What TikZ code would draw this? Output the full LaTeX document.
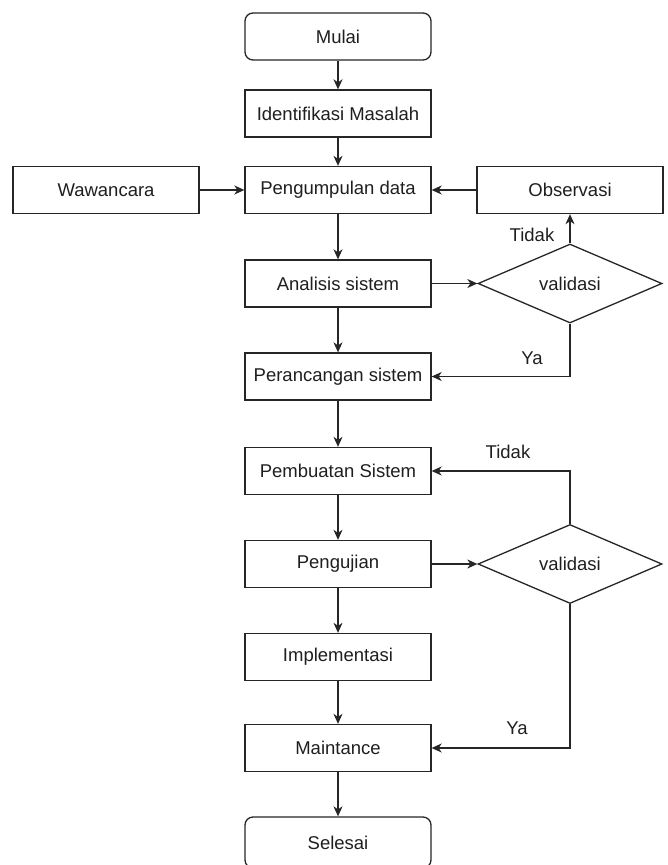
\documentclass[tikz,border=0pt]{standalone}
\usepackage{fontspec}
\setmainfont{Liberation Sans}
\usetikzlibrary{arrows.meta,shapes.geometric}
\begin{document}
\begin{tikzpicture}[x=1pt,y=-1pt,
  every node/.style={font=\fontsize{18.5}{20}\selectfont, text=black!88},
  box/.style={draw=black!85, line width=1.3pt, minimum width=186pt, minimum height=47pt, inner sep=0pt, fill=white},
  term/.style={box, rounded corners=8pt},
  dec/.style={draw=black!85, line width=1.3pt, diamond, aspect=2.33, minimum width=184pt, minimum height=79pt, inner sep=0pt},
  lbl/.style={inner sep=0pt},
  arr/.style={draw=black!85, line width=1.3pt, -{Stealth[length=10pt,width=9pt,inset=3pt]}}]
\useasboundingbox (0,0) rectangle (668,865);
\clip (0,0) rectangle (668,865);
\node[term] (mulai) at (338,36.5) {Mulai};
\node[box] (ident) at (338,113.5) {Identifikasi Masalah};
\node[box] (kumpul) at (338,190) {Pengumpulan data};
\node[box] (waw) at (106,190) {Wawancara};
\node[box] (obs) at (570,190) {Observasi};
\node[box] (analisis) at (338,283.5) {Analisis sistem};
\node[dec] (val1) at (570,283.5) {validasi};
\node[box] (rancang) at (338,376.5) {Perancangan sistem};
\node[box] (buat) at (338,471) {Pembuatan Sistem};
\node[box] (uji) at (338,564) {Pengujian};
\node[dec] (val2) at (570,564) {validasi};
\node[box] (impl) at (338,657) {Implementasi};
\node[box] (maint) at (338,748) {Maintance};
\node[term, minimum height=51pt] (selesai) at (338,842.5) {Selesai};
\node[lbl] (t1) at (532,235) {Tidak};
\node[lbl] (y1) at (532,358) {Ya};
\node[lbl] (t2) at (508,452) {Tidak};
\node[lbl] (y2) at (517,728) {Ya};
\draw[arr] (mulai) -- (ident);
\draw[arr] (ident) -- (kumpul);
\draw[arr] (waw.east) -- (kumpul.west);
\draw[arr] (obs.west) -- (kumpul.east);
\draw[arr] (kumpul) -- (analisis);
\draw[arr] (analisis.east) -- (val1.west);
\draw[arr] (val1.north) -- (obs.south);
\draw[arr] (val1.south) |- (rancang.east);
\draw[arr] (analisis) -- (rancang);
\draw[arr] (rancang) -- (buat);
\draw[arr] (val2.north) |- (buat.east);
\draw[arr] (buat) -- (uji);
\draw[arr] (uji.east) -- (val2.west);
\draw[arr] (uji) -- (impl);
\draw[arr] (val2.south) |- (maint.east);
\draw[arr] (impl) -- (maint);
\draw[arr] (maint) -- (selesai);
\end{tikzpicture}
\end{document}
